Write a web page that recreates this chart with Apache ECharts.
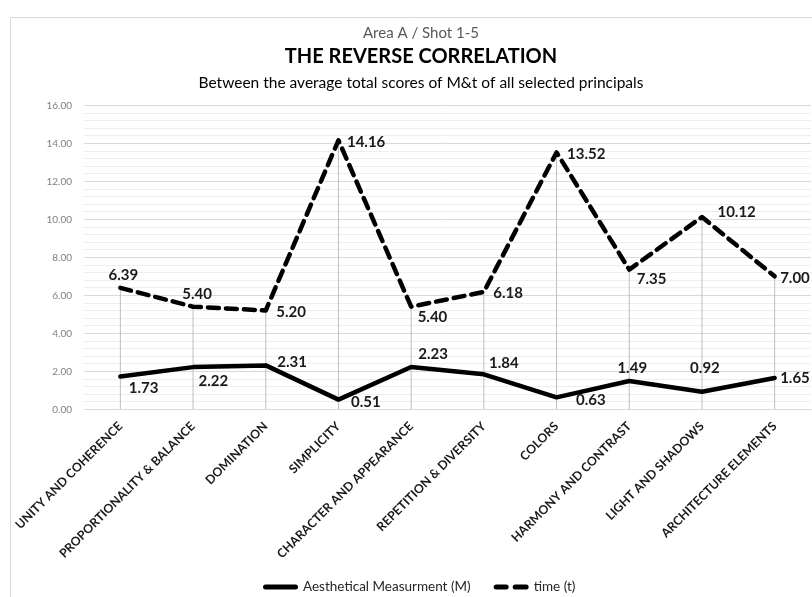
<!DOCTYPE html>
<html><head><meta charset="utf-8">
<script src="https://cdn.jsdelivr.net/npm/echarts@6/dist/echarts.min.js"></script>
<style>html,body{margin:0;padding:0;background:#fff}#c{width:812px;height:597px}</style>
</head><body><div id="c"></div>
<script>
var categories = ["UNITY AND COHERENCE","PROPORTIONALITY & BALANCE","DOMINATION","SIMPLICITY","CHARACTER AND APPEARANCE","REPETITION & DIVERSITY","COLORS","HARMONY AND CONTRAST","LIGHT AND SHADOWS","ARCHITECTURE ELEMENTS"];
var aestheticM = [1.73,2.22,2.31,0.51,2.23,1.84,0.63,1.49,0.92,1.65];
var timeT = [6.39,5.40,5.20,14.16,5.40,6.18,13.52,7.35,10.12,7.00];
var yTicks = [0,2,4,6,8,10,12,14,16];

// label placement (style only)
var timeLabelPos = [['top',[3,0]],['top',[4,0]],['right',[5,2]],['right',[3,2]],['right',[1,10]],['right',[4,1]],['right',[5,2]],['right',[2,10]],['right',[10,-5]],['right',[0,2]]];
var mLabelPos = [['right',[3,12]],['right',[0,14]],['right',[6,-3]],['right',[7,3]],['top',[22,0]],['top',[20,2]],['right',[14,3]],['top',[3,0]],['top',[3,-11]],['right',[0,0]]];

var FONT = 'Lato,"Open Sans",sans-serif';
function mk(vals, pos){
  return vals.map(function(v,i){
    return {value:v, label:{position:pos[i][0], offset:pos[i][1]}};
  });
}
var SOLID_ICON = 'path://M2.5,0H32.5A2.5,2.5,0,0,1,32.5,5H2.5A2.5,2.5,0,0,1,2.5,0Z';
var DASH_ICON = 'path://M2.5,0H12.5A2.5,2.5,0,0,1,12.5,5H2.5A2.5,2.5,0,0,1,2.5,0ZM21.5,0H32.5A2.5,2.5,0,0,1,32.5,5H21.5A2.5,2.5,0,0,1,21.5,0Z';
var chart = echarts.init(document.getElementById('c'));
chart.setOption({
  animation:false,
  backgroundColor:'#fff',
  textStyle:{fontFamily:FONT},
  graphic:[{type:'rect',shape:{x:10.5,y:17.5,width:900,height:700},style:{fill:'none',stroke:'#d9d9d9',lineWidth:1},z:-10}],
  title:[
    {text:'Area A / Shot 1-5',left:416,top:21,textAlign:'center',textStyle:{fontFamily:FONT,fontSize:15,fontWeight:'normal',color:'#595959'}},
    {text:'THE REVERSE CORRELATION',left:416,top:42,textAlign:'center',textStyle:{fontFamily:FONT,fontSize:20,fontWeight:'bold',color:'#000'}},
    {text:'Between the average total scores of M&t of all selected principals',left:416,top:70,textAlign:'center',textStyle:{fontFamily:FONT,fontSize:15.5,fontWeight:'normal',color:'#000'}}
  ],
  legend:{
    left:258, top:575, itemWidth:35, itemHeight:5, itemGap:23,
    textStyle:{fontFamily:FONT,fontSize:13.5,color:'#262626'},
    data:[{name:'Aesthetical Measurment (M)',icon:SOLID_ICON,itemStyle:{color:'#000'}},{name:'time (t)',icon:DASH_ICON,itemStyle:{color:'#000'}}]
  },
  grid:{left:84,right:1,top:105.3,bottom:187.7},
  xAxis:{
    type:'category', data:categories, boundaryGap:true,
    axisLine:{lineStyle:{color:'#d9d9d9',width:1}},
    axisTick:{show:false},
    axisLabel:{rotate:45,interval:0,margin:15,fontFamily:FONT,fontSize:12.3,fontWeight:'bold',color:'#1a1a1a'}
  },
  yAxis:{
    type:'value', min:yTicks[0], max:yTicks[yTicks.length-1], interval:2,
    axisLine:{show:false}, axisTick:{show:false},
    axisLabel:{formatter:function(v){return v.toFixed(2);},fontFamily:FONT,fontSize:10,color:'#7f7f7f',margin:12},
    splitLine:{lineStyle:{color:'#d9d9d9',width:1}},
    minorTick:{show:false,splitNumber:5},
    minorSplitLine:{show:true,lineStyle:{color:'#eeeeee',width:1}}
  },
  series:[
    {name:'drop', type:'bar', data:timeT, barWidth:1, itemStyle:{color:'#bfbfbf'}, silent:true, z:1, legendHoverLink:false},
    {name:'Aesthetical Measurment (M)', type:'line', data:mk(aestheticM,mLabelPos), symbol:'circle', symbolSize:1,
     itemStyle:{color:'#000'}, lineStyle:{color:'#000',width:4.5,cap:'round',join:'round'}, z:3,
     label:{show:true,fontFamily:FONT,fontSize:15,fontWeight:'bold',color:'#1a1a1a',formatter:function(p){return p.value.toFixed(2);}}},
    {name:'time (t)', type:'line', data:mk(timeT,timeLabelPos), symbol:'circle', symbolSize:1,
     itemStyle:{color:'#000'}, lineStyle:{color:'#000',width:4.5,type:[11,7],cap:'round',join:'round'}, z:3,
     label:{show:true,fontFamily:FONT,fontSize:15,fontWeight:'bold',color:'#1a1a1a',formatter:function(p){return p.value.toFixed(2);}}}
  ]
});
</script></body></html>
